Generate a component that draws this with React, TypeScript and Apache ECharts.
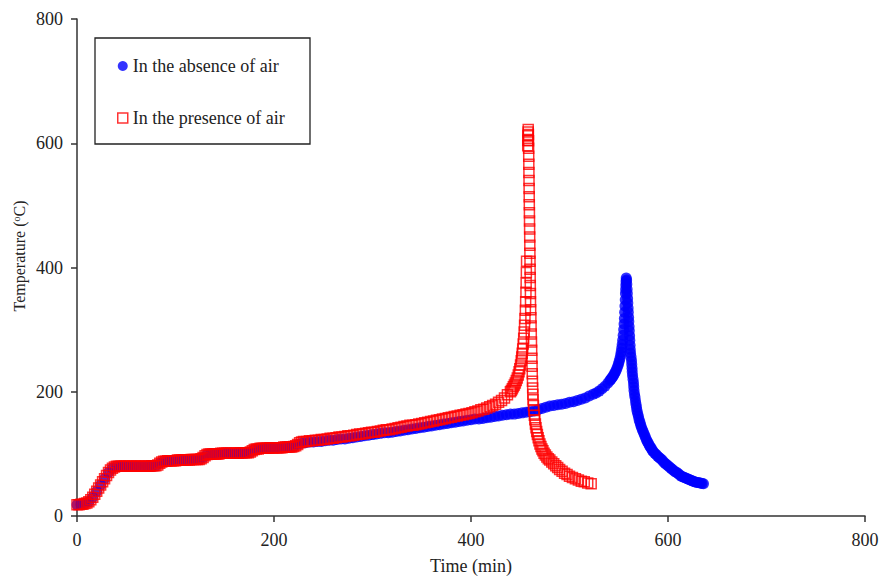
import React, { useEffect, useRef } from "react";
import * as echarts from "echarts";

// Time (min), Temperature (°C) — in the absence of air
const absenceData: [number, number][] = [
  [0,18],[4,19],[8,20],[12,23],[16,30],[20,40],[24,50],[28,60],[32,70],[36,77],[40,80],[44,80],[48,80],[52,80],[56,80],[60,80],[64,80],[68,80],[72,80],[76,80],[80,81],[84,85],[88,88],[92,89],[96,89],[100,89],[104,90],[108,90],[112,90],[116,91],[120,91],[124,91],[128,94],[132,99],[136,100],[140,100],[144,100],[148,101],[152,101],[156,101],[160,101],[164,101],[168,102],[172,102],[176,103],[180,107],[184,108],[188,109],[192,109],[196,110],[200,110],[204,110],[208,110],[212,111],[216,111],[220,112],[224,115],[228,117],
  [232,118],[236,119],[240,119],[244,120],[248,120],[252,121],[256,122],[260,122],[264,123],[268,124],[272,124],[276,125],[280,126],[284,127],[288,128],[292,129],[296,130],[300,131],[304,132],[308,133],[312,134],[316,134],[320,135],[324,136],[328,137],[332,138],[336,139],[340,140],[344,141],[348,142],[352,143],[356,144],[360,145],[364,146],[368,147],[372,148],[376,149],[380,150],[384,151],[388,152],[392,153],[396,154],[400,155],[404,156],[408,156],[412,157],[416,158],[420,159],[424,160],[428,161],[432,162],[436,163],[440,164],[444,164],[448,165],[452,166],[456,167],[460,168],[464,169],[468,171],[472,173],[476,175],[480,177],[484,178],[488,179],[492,180],[496,181],[500,183],[504,184],[508,186],[512,188],[516,190],[520,193],[524,196],[527,198],[530,201],[533,205],[536,209],[539,214],[541,218],[543,222],[545,227],[547,233],[549,241],[550.5,249],[552,259],[553,270],[554,283],[555,300],[555.7,318],[556.3,338],[556.8,358],[557.2,372],[557.6,383],
  [542,220],[544,224.5],[546,230],[548,237],[549.8,245],[551.3,254],[552.5,264],[553.5,276],[554.5,291],[555.4,309],[556,328],[556.6,348],[557,365],[557.4,378],
  [558,380],[558.5,365],[559,350],[559.5,335],[560,320],[560.5,305],[561,290],[561.5,275],[562,262],[563,250],[563.5,238],[564,226],[565,214],[565.5,202],[566.5,191],[567.5,180],[568.5,170],[570,160],[571.5,151],[573,143],[575,135],[577,127],[579,120],[581,114],[583,109],[585,104],[588,99],[591,94],[594,90],[597,85],[600,81],[603,77],[606,73],[609,70],[612,66],[615,63],[618,61],[621,59],[624,57],[627,55],[630,54],[633,53],[636,52],
  [558.2,373],[558.7,358],[559.2,343],[559.7,328],[560.2,313],[560.7,298],[561.2,283],[561.7,268],[562.5,256],[563.2,244],[563.7,232],[564.5,220],[565.2,208],[566,196],[567,185],[568,175],[569.2,165],[570.7,155],[572.2,147],[574,139],[576,131],[578,123],[580,117],[582,111],[584,106],[586.5,101],[589.5,96],[592.5,92],[595.5,87],[598.5,83],[601.5,79],[604.5,75],[607.5,71],[610.5,68],[613.5,64],[616.5,62],[619.5,60],[622.5,58],[625.5,56],[628.5,54.5],[631.5,53.5],[634.5,52.5]
];

// Time (min), Temperature (°C) — in the presence of air
const presenceData: [number, number][] = [
  [0,18],[2,18],[4,19],[6,19],[8,20],[10,21],[12,23],[14,26],[16,30],[18,35],[20,40],[22,45],[24,50],[26,55],[28,60],[30,65],[32,70],[34,74],[36,77],[38,79],[40,80],[42,80],[44,80],[46,80],[48,80],[50,80],[52,80],[54,80],[56,80],[58,80],[60,80],[62,80],[64,80],[66,80],[68,80],[70,80],[72,80],[74,80],[76,81],[78,81],[80,81],[82,82],[84,85],[86,87],[88,88],[90,88],[92,89],[94,89],[96,89],[98,89],[100,89],[102,90],[104,90],[106,90],[108,90],[110,90],[112,90],[114,90],[116,91],[118,91],[120,91],[122,91],[124,91],[126,92],[128,94],[130,97],[132,99],[134,100],[136,100],[138,100],[140,100],[142,100],[144,100],[146,101],[148,101],[150,101],[152,101],[154,101],[156,101],[158,101],[160,101],[162,101],[164,101],[166,102],[168,102],[170,102],[172,102],[174,102],[176,103],[178,105],[180,107],[182,108],[184,108],[186,109],[188,109],[190,109],[192,109],[194,109],[196,110],[198,110],[200,110],[202,110],[204,110],[206,110],[208,110],[210,111],[212,111],[214,111],[216,111],[218,111],[220,112],[222,113],[224,115],[226,118],[228,119],
  [230,120],[233,120],[236,121],[239,121],[242,122],[245,122],[248,123],[251,123],[254,124],[257,125],[260,125],[263,126],[266,127],[269,127],[272,128],[275,129],[278,129],[281,130],[284,131],[287,132],[290,132],[293,133],[296,134],[299,135],[302,135],[305,136],[308,137],[311,138],[314,139],[317,139],[320,140],[323,141],[326,142],[329,143],[332,144],[335,145],[338,146],[341,146],[344,147],[347,148],[350,149],[353,150],[356,151],[359,152],[362,153],[365,154],[368,155],[371,156],[374,157],[377,158],[380,159],[383,160],[386,161],[389,162],[392,163],[395,164],[398,165],[401,166],[404,168],[407,169],[410,171],[413,172],[416,174],[419,176],[422,178],[425,180],[428,183],[431,186],[434,190],[437,195],[440,200],[442,205],[444,211],[446,218],[448,227],[449.5,237],[451,250],[452,262],[453,277],[454,296],[454.8,318],[455.5,345],[456,375],[456.4,410],
  [441,202],[443,208],[445,214],[447,222],[448.8,232],[450.3,243],[451.5,256],[452.5,269],[453.5,286],[454.4,307],[455.2,331],[455.8,360],[456.2,392],
  [457.6,596],[457.8,605],[457.9,612],[458,618],[458.1,622],
  [458.3,614],[458.4,604],[458.5,592],[458.6,579],[458.7,566],[458.8,553],[458.9,540],[459,527],[459.1,514],[459.2,501],[459.3,488],[459.4,475],[459.5,462],[459.6,449],[459.7,436],[459.8,423],[459.9,410],[460,397],[460.1,384],[460.2,371],[460.3,358],[460.4,345],[460.6,332],[460.8,319],[461,306],[461.2,293],[461.4,280],[461.6,267],[461.8,254],[462,241],[462.2,229],[462.4,217],[462.6,206],[462.8,196],[463,187],[463.4,178],[463.8,170],[464.3,162],[464.8,155],[465.4,148],[466,142],[466.7,136],[467.4,131],[468.2,126],[469,121],[470,116],[471,112],[472,108],[473,105],[474.2,101],[475.5,98],[477,95],[478.5,92],[480,90],[482,87],[484,84],[486,81],[488,78],[490,75],[492.5,72],[495,69],[497.5,67],[500,64],[503,62],[506,60],[509,58],[512,56],[515,55],[518.5,53],[522,52]
];

const seriesNames = ["In the absence of air", "In the presence of air"];
const xAxisName = "Time (min)";
const yAxisName = "Temperature ({sup|o}C)";

const FONT = "'Liberation Serif', 'Times New Roman', serif";
const TXT = "#222";

export default function App() {
  const ref = useRef<HTMLDivElement>(null);
  useEffect(() => {
    if (!ref.current) return;
    const chart = echarts.init(ref.current, undefined, { renderer: "svg" });
    const axisCommon = {
      type: "value" as const,
      min: 0,
      max: 800,
      interval: 200,
      splitLine: { show: false },
      axisLine: { show: true, lineStyle: { color: "#333", width: 1.5 } },
      axisTick: { show: true, inside: false, length: 6, lineStyle: { color: "#333", width: 1.5 } },
    };
    chart.setOption({
      animation: false,
      textStyle: { fontFamily: FONT },
      grid: { left: 77, right: 17, top: 19, bottom: 63, containLabel: false, outerBoundsMode: "none" },
      xAxis: {
        ...axisCommon,
        name: xAxisName,
        nameLocation: "middle",
        nameGap: 41,
        nameTextStyle: { fontFamily: FONT, fontSize: 18, color: TXT },
        axisLabel: { fontFamily: FONT, fontSize: 18, color: TXT, margin: 15 },
      },
      yAxis: {
        ...axisCommon,
        axisLabel: { fontFamily: FONT, fontSize: 18, color: TXT, margin: 14 },
      },
      legend: {
        orient: "vertical",
        left: 117,
        top: 56,
        padding: 0,
        itemWidth: 10,
        itemHeight: 10,
        itemGap: 32,
        selectedMode: false,
        textStyle: { fontFamily: FONT, fontSize: 18, color: TXT, lineHeight: 20 },
        data: [
          { name: seriesNames[0], icon: "circle", itemStyle: { color: "#0000ff", borderWidth: 0 } },
          { name: seriesNames[1], icon: "rect", itemStyle: { color: "#ffffff", borderColor: "#ff0000", borderWidth: 1.5 } },
        ],
      },
      graphic: [
        {
          type: "rect",
          shape: { x: 95, y: 38, width: 215, height: 106 },
          style: { fill: "none", stroke: "#222", lineWidth: 1.3 },
          silent: true,
        },
        {
          type: "text",
          x: 19,
          y: 256,
          rotation: Math.PI / 2,
          silent: true,
          style: {
            text: yAxisName,
            fontFamily: FONT,
            fontSize: 16,
            fill: TXT,
            align: "center",
            verticalAlign: "middle",
            rich: {
              sup: { fontFamily: FONT, fontSize: 10, fill: TXT, verticalAlign: "top" },
            },
          },
        },
      ],
      series: [
        {
          name: seriesNames[0],
          type: "scatter",
          data: absenceData,
          symbol: "circle",
          symbolSize: 11,
          itemStyle: { color: "#0000ff" },
          silent: true,
          emphasis: { disabled: true },
        },
        {
          name: seriesNames[1],
          type: "scatter",
          data: presenceData,
          symbol: "rect",
          symbolSize: 10,
          itemStyle: { color: "none", borderColor: "#ff0000", borderWidth: 1.5 },
          silent: true,
          emphasis: { disabled: true },
        },
      ],
    });
    return () => chart.dispose();
  }, []);
  return (
    <div
      ref={ref}
      style={{ position: "fixed", left: 0, top: 0, width: 882, height: 579, background: "#fff" }}
    />
  );
}
